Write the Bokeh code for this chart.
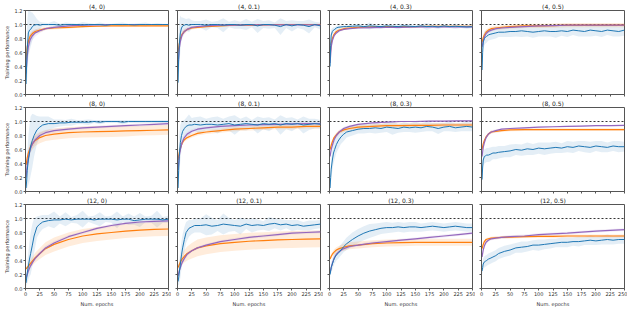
import numpy as np
from bokeh.plotting import figure
from bokeh.layouts import gridplot
from bokeh.models import Range1d, FixedTicker, PrintfTickFormatter, Span, CustomLabelingPolicy
from bokeh.embed import file_html
from bokeh.resources import INLINE

# epochs at which the (noisy) blue series is sampled
XB = [1, 2, 3, 5, 7, 9, 12, 15, 20, 25, 30, 40, 50, 60, 70, 80, 90, 100, 110, 120,
      130, 140, 150, 160, 170, 180, 190, 200, 210, 220, 230, 240, 250]
# epochs at which the smooth orange / purple series are sampled
XS = [1, 3, 5, 8, 12, 17, 25, 35, 50, 75, 100, 125, 150, 175, 200, 225, 250]

X_TICKS = [0, 25, 50, 75, 100, 125, 150, 175, 200, 225, 250]
Y_TICKS = [0.0, 0.2, 0.4, 0.6, 0.8, 1.0, 1.2]

DEPTHS = ["4", "8", "12"]
NOISES = ["0", "0.1", "0.3", "0.5"]

# ---------------- (4, 0) ----------------
blue_4_0 = [0.15, 0.45, 0.65, 0.88, 0.92, 0.93, 0.97, 0.99, 1.0, 0.99, 1.0,
            1.0, 1.0, 0.99, 1.0, 1.0, 1.0, 0.995, 1.0, 1.0, 1.0, 0.99, 1.0, 1.0, 1.0, 1.0, 0.995, 1.0, 1.0, 1.0, 1.0, 1.0, 1.0]
blue_sd_4_0 = [0.1, 0.3, 0.4, 0.35, 0.3, 0.25, 0.2, 0.15, 0.08, 0.05, 0.03,
               0.02, 0.05, 0.02, 0.03, 0.02, 0.01, 0.04, 0.02, 0.01, 0.03, 0.02, 0.01, 0.02, 0.03, 0.01, 0.02, 0.02, 0.03, 0.01, 0.02, 0.01, 0.01]
orange_4_0 = [0.5, 0.68, 0.76, 0.83, 0.87, 0.9, 0.92, 0.94, 0.95, 0.96, 0.97, 0.975, 0.98, 0.98, 0.98, 0.98, 0.98]
orange_sd_4_0 = [0.05, 0.05, 0.05, 0.04, 0.04, 0.03, 0.03, 0.02, 0.02, 0.02, 0.01, 0.01, 0.01, 0.01, 0.01, 0.01, 0.01]
purple_4_0 = [0.3, 0.55, 0.68, 0.78, 0.84, 0.88, 0.91, 0.94, 0.96, 0.98, 0.99, 0.995, 1.0, 1.0, 1.0, 1.0, 1.0]
purple_sd_4_0 = [0.1, 0.12, 0.1, 0.08, 0.06, 0.05, 0.03, 0.02, 0.01, 0.01, 0.01, 0.005, 0.005, 0.005, 0.005, 0.005, 0.005]

# ---------------- (4, 0.1) ----------------
blue_4_01 = [0.17, 0.5, 0.7, 0.88, 0.95, 0.98, 0.99, 1.0, 0.99, 1.0, 1.0,
             1.0, 0.99, 1.0, 1.0, 0.99, 1.0, 1.0, 0.99, 1.0, 1.0, 0.98, 1.0, 1.0, 0.99, 0.97, 1.0, 0.98, 1.0, 0.99, 0.97, 1.0, 0.98]
blue_sd_4_01 = [0.1, 0.3, 0.35, 0.25, 0.15, 0.12, 0.1, 0.08, 0.1, 0.06, 0.05,
                0.05, 0.08, 0.04, 0.05, 0.1, 0.04, 0.06, 0.05, 0.08, 0.04, 0.1, 0.05, 0.06, 0.04, 0.12, 0.05, 0.08, 0.05, 0.06, 0.1, 0.04, 0.05]
orange_4_01 = [0.6, 0.72, 0.8, 0.86, 0.9, 0.93, 0.95, 0.96, 0.97, 0.98, 0.99, 0.99, 0.995, 1.0, 1.0, 1.0, 1.0]
orange_sd_4_01 = [0.04, 0.04, 0.03, 0.03, 0.03, 0.02, 0.02, 0.02, 0.01, 0.01, 0.01, 0.01, 0.01, 0.01, 0.01, 0.01, 0.01]
purple_4_01 = [0.4, 0.65, 0.76, 0.85, 0.9, 0.93, 0.96, 0.97, 0.98, 0.99, 0.99, 0.995, 0.995, 0.995, 0.995, 0.995, 0.995]
purple_sd_4_01 = [0.08, 0.08, 0.06, 0.05, 0.04, 0.03, 0.02, 0.01, 0.01, 0.01, 0.005, 0.005, 0.005, 0.005, 0.005, 0.005, 0.005]

# ---------------- (4, 0.3) ----------------
blue_4_03 = [0.4, 0.7, 0.85, 0.9, 0.92, 0.93, 0.95, 0.96, 0.965, 0.97, 0.97,
             0.975, 0.98, 0.97, 0.98, 0.975, 0.97, 0.98, 0.975, 0.97, 0.98, 0.975, 0.97, 0.98, 0.97, 0.975, 0.965, 0.98, 0.97, 0.975, 0.97, 0.965, 0.97]
blue_sd_4_03 = [0.05, 0.1, 0.08, 0.05, 0.04, 0.03, 0.03, 0.03, 0.02, 0.02, 0.02,
                0.02, 0.03, 0.02, 0.05, 0.02, 0.03, 0.02, 0.02, 0.04, 0.02, 0.03, 0.02, 0.02, 0.05, 0.02, 0.03, 0.02, 0.02, 0.04, 0.02, 0.03, 0.02]
orange_4_03 = [0.55, 0.73, 0.8, 0.86, 0.9, 0.92, 0.94, 0.95, 0.96, 0.965, 0.97, 0.97, 0.97, 0.975, 0.975, 0.975, 0.975]
orange_sd_4_03 = [0.03, 0.03, 0.03, 0.02, 0.02, 0.02, 0.02, 0.01, 0.01, 0.01, 0.01, 0.01, 0.01, 0.01, 0.01, 0.01, 0.01]
purple_4_03 = [0.45, 0.68, 0.77, 0.84, 0.88, 0.91, 0.93, 0.94, 0.95, 0.955, 0.96, 0.96, 0.965, 0.965, 0.965, 0.965, 0.965]
purple_sd_4_03 = [0.06, 0.05, 0.04, 0.03, 0.02, 0.02, 0.01, 0.01, 0.01, 0.01, 0.01, 0.01, 0.01, 0.01, 0.01, 0.01, 0.01]

# ---------------- (4, 0.5) ----------------
blue_4_05 = [0.35, 0.6, 0.75, 0.8, 0.82, 0.83, 0.85, 0.86, 0.87, 0.88, 0.89,
             0.89, 0.9, 0.9, 0.91, 0.9, 0.89, 0.9, 0.91, 0.9, 0.9, 0.91, 0.9, 0.92, 0.91, 0.9, 0.92, 0.91, 0.9, 0.92, 0.91, 0.9, 0.92]
blue_sd_4_05 = [0.1, 0.12, 0.1, 0.1, 0.09, 0.09, 0.08, 0.08, 0.08, 0.08, 0.07,
                0.07, 0.08, 0.07, 0.09, 0.07, 0.08, 0.07, 0.08, 0.07, 0.09, 0.07, 0.08, 0.07, 0.08, 0.07, 0.09, 0.07, 0.08, 0.07, 0.08, 0.07, 0.08]
orange_4_05 = [0.75, 0.81, 0.85, 0.89, 0.92, 0.94, 0.95, 0.96, 0.97, 0.98, 0.98, 0.985, 0.99, 0.99, 0.99, 0.99, 0.99]
orange_sd_4_05 = [0.04, 0.04, 0.04, 0.04, 0.03, 0.03, 0.03, 0.03, 0.03, 0.03, 0.03, 0.03, 0.03, 0.03, 0.03, 0.03, 0.03]
purple_4_05 = [0.68, 0.76, 0.82, 0.87, 0.9, 0.92, 0.94, 0.95, 0.96, 0.97, 0.98, 0.985, 0.99, 0.99, 0.99, 0.99, 0.99]
purple_sd_4_05 = [0.04, 0.04, 0.03, 0.03, 0.02, 0.02, 0.02, 0.01, 0.01, 0.01, 0.01, 0.01, 0.01, 0.01, 0.01, 0.01, 0.01]

# ---------------- (8, 0) ----------------
blue_8_0 = [0.05, 0.15, 0.3, 0.45, 0.55, 0.65, 0.73, 0.8, 0.88, 0.92, 0.95,
            0.97, 0.97, 0.98, 0.98, 0.99, 0.99, 0.99, 0.99, 1.0, 0.99, 1.0, 1.0, 1.0, 0.99, 1.0, 1.0, 1.0, 1.0, 1.0, 1.0, 1.0, 1.0]
blue_sd_8_0 = [0.05, 0.15, 0.25, 0.35, 0.4, 0.42, 0.38, 0.3, 0.2, 0.15, 0.12,
               0.1, 0.06, 0.05, 0.04, 0.05, 0.03, 0.03, 0.04, 0.02, 0.03, 0.02, 0.02, 0.02, 0.03, 0.02, 0.02, 0.02, 0.02, 0.02, 0.02, 0.02, 0.02]
orange_8_0 = [0.38, 0.48, 0.55, 0.62, 0.68, 0.73, 0.77, 0.8, 0.82, 0.84, 0.85, 0.855, 0.86, 0.865, 0.87, 0.875, 0.88]
orange_sd_8_0 = [0.04, 0.05, 0.06, 0.07, 0.08, 0.08, 0.08, 0.08, 0.08, 0.08, 0.08, 0.08, 0.08, 0.08, 0.07, 0.07, 0.07]
purple_8_0 = [0.2, 0.38, 0.48, 0.6, 0.68, 0.74, 0.8, 0.84, 0.87, 0.89, 0.91, 0.92, 0.93, 0.94, 0.95, 0.96, 0.97]
purple_sd_8_0 = [0.05, 0.08, 0.08, 0.07, 0.06, 0.05, 0.04, 0.03, 0.03, 0.02, 0.02, 0.02, 0.02, 0.02, 0.02, 0.02, 0.02]

# ---------------- (8, 0.1) ----------------
blue_8_01 = [0.05, 0.3, 0.5, 0.7, 0.8, 0.86, 0.9, 0.93, 0.95, 0.95, 0.96,
             0.95, 0.96, 0.96, 0.95, 0.96, 0.97, 0.95, 0.96, 0.97, 0.96, 0.95, 0.97, 0.96, 0.97, 0.95, 0.97, 0.96, 0.97, 0.95, 0.96, 0.97, 0.96]
blue_sd_8_01 = [0.05, 0.2, 0.3, 0.25, 0.2, 0.15, 0.12, 0.12, 0.15, 0.1, 0.1,
                0.12, 0.08, 0.1, 0.12, 0.08, 0.1, 0.14, 0.08, 0.1, 0.06, 0.12, 0.08, 0.1, 0.06, 0.14, 0.08, 0.1, 0.06, 0.12, 0.08, 0.07, 0.06]
orange_8_01 = [0.45, 0.55, 0.62, 0.69, 0.74, 0.77, 0.8, 0.83, 0.85, 0.87, 0.89, 0.9, 0.91, 0.92, 0.92, 0.93, 0.93]
orange_sd_8_01 = [0.03, 0.03, 0.03, 0.03, 0.03, 0.03, 0.03, 0.03, 0.03, 0.03, 0.03, 0.03, 0.03, 0.03, 0.03, 0.03, 0.03]
purple_8_01 = [0.3, 0.5, 0.6, 0.7, 0.77, 0.82, 0.86, 0.89, 0.91, 0.93, 0.94, 0.95, 0.955, 0.96, 0.965, 0.97, 0.97]
purple_sd_8_01 = [0.05, 0.05, 0.05, 0.04, 0.04, 0.03, 0.03, 0.02, 0.02, 0.02, 0.02, 0.02, 0.02, 0.02, 0.02, 0.02, 0.02]

# ---------------- (8, 0.3) ----------------
blue_8_03 = [0.05, 0.2, 0.32, 0.45, 0.55, 0.6, 0.67, 0.72, 0.78, 0.82, 0.85,
             0.87, 0.89, 0.9, 0.9, 0.91, 0.9, 0.92, 0.91, 0.9, 0.92, 0.91, 0.92, 0.91, 0.93, 0.92, 0.9, 0.92, 0.93, 0.91, 0.92, 0.93, 0.92]
blue_sd_8_03 = [0.05, 0.1, 0.15, 0.15, 0.15, 0.14, 0.12, 0.12, 0.1, 0.1, 0.08,
                0.07, 0.06, 0.07, 0.06, 0.08, 0.06, 0.07, 0.1, 0.06, 0.07, 0.06, 0.08, 0.06, 0.07, 0.06, 0.08, 0.06, 0.07, 0.06, 0.06, 0.07, 0.06]
orange_8_03 = [0.6, 0.66, 0.71, 0.77, 0.81, 0.85, 0.88, 0.9, 0.92, 0.93, 0.94, 0.94, 0.945, 0.945, 0.95, 0.95, 0.95]
orange_sd_8_03 = [0.03, 0.03, 0.03, 0.03, 0.03, 0.03, 0.03, 0.03, 0.03, 0.03, 0.03, 0.03, 0.03, 0.03, 0.03, 0.03, 0.03]
purple_8_03 = [0.5, 0.6, 0.66, 0.74, 0.8, 0.85, 0.9, 0.93, 0.96, 0.98, 0.99, 1.0, 1.0, 1.005, 1.005, 1.01, 1.01]
purple_sd_8_03 = [0.05, 0.05, 0.04, 0.04, 0.03, 0.03, 0.02, 0.02, 0.01, 0.01, 0.01, 0.01, 0.01, 0.01, 0.01, 0.01, 0.01]

# ---------------- (8, 0.5) ----------------
blue_8_05 = [0.17, 0.35, 0.45, 0.5, 0.51, 0.52, 0.52, 0.53, 0.55, 0.55, 0.56,
             0.57, 0.58, 0.6, 0.59, 0.61, 0.6, 0.62, 0.61, 0.62, 0.63, 0.62, 0.64, 0.63, 0.65, 0.64, 0.63, 0.65, 0.64, 0.63, 0.65, 0.64, 0.64]
blue_sd_8_05 = [0.05, 0.1, 0.1, 0.1, 0.1, 0.1, 0.1, 0.1, 0.09, 0.09, 0.09,
                0.08, 0.09, 0.08, 0.08, 0.09, 0.08, 0.08, 0.09, 0.08, 0.08, 0.07, 0.08, 0.08, 0.07, 0.08, 0.08, 0.07, 0.08, 0.07, 0.07, 0.08, 0.07]
orange_8_05 = [0.6, 0.68, 0.73, 0.78, 0.82, 0.85, 0.86, 0.87, 0.88, 0.885, 0.885, 0.885, 0.885, 0.885, 0.885, 0.885, 0.885]
orange_sd_8_05 = [0.02, 0.02, 0.02, 0.02, 0.02, 0.02, 0.02, 0.02, 0.02, 0.02, 0.02, 0.02, 0.02, 0.02, 0.02, 0.02, 0.02]
purple_8_05 = [0.5, 0.63, 0.7, 0.77, 0.82, 0.85, 0.87, 0.89, 0.9, 0.91, 0.92, 0.925, 0.93, 0.935, 0.94, 0.94, 0.945]
purple_sd_8_05 = [0.05, 0.05, 0.04, 0.03, 0.02, 0.02, 0.02, 0.01, 0.01, 0.01, 0.01, 0.01, 0.01, 0.01, 0.01, 0.01, 0.01]

# ---------------- (12, 0) ----------------
blue_12_0 = [0.08, 0.15, 0.22, 0.32, 0.42, 0.5, 0.62, 0.75, 0.88, 0.92, 0.95,
             0.97, 0.98, 0.98, 0.99, 0.98, 0.99, 0.99, 0.99, 0.98, 0.99, 0.99, 0.99, 0.98, 0.99, 0.99, 0.97, 0.98, 0.99, 0.99, 0.99, 0.98, 0.99]
blue_sd_12_0 = [0.05, 0.1, 0.15, 0.2, 0.25, 0.3, 0.3, 0.25, 0.15, 0.12, 0.1,
                0.08, 0.12, 0.05, 0.1, 0.04, 0.06, 0.12, 0.04, 0.06, 0.1, 0.04, 0.05, 0.12, 0.04, 0.08, 0.06, 0.1, 0.04, 0.05, 0.12, 0.04, 0.05]
orange_12_0 = [0.28, 0.3, 0.32, 0.35, 0.39, 0.44, 0.5, 0.57, 0.63, 0.7, 0.75, 0.78, 0.8, 0.82, 0.835, 0.845, 0.85]
orange_sd_12_0 = [0.02, 0.03, 0.04, 0.05, 0.06, 0.07, 0.08, 0.09, 0.1, 0.1, 0.1, 0.1, 0.1, 0.1, 0.1, 0.1, 0.1]
purple_12_0 = [0.15, 0.2, 0.25, 0.31, 0.37, 0.43, 0.5, 0.58, 0.65, 0.74, 0.8, 0.86, 0.9, 0.93, 0.95, 0.96, 0.965]
purple_sd_12_0 = [0.03, 0.03, 0.03, 0.03, 0.03, 0.03, 0.03, 0.03, 0.03, 0.02, 0.02, 0.02, 0.02, 0.02, 0.02, 0.02, 0.02]

# ---------------- (12, 0.1) ----------------
blue_12_01 = [0.1, 0.15, 0.22, 0.35, 0.48, 0.58, 0.7, 0.8, 0.86, 0.88, 0.9,
              0.9, 0.91, 0.89, 0.9, 0.92, 0.91, 0.9, 0.89, 0.92, 0.9, 0.91, 0.9, 0.92, 0.93, 0.91, 0.92, 0.9, 0.91, 0.89, 0.9, 0.91, 0.92]
blue_sd_12_01 = [0.05, 0.1, 0.15, 0.2, 0.2, 0.2, 0.18, 0.15, 0.12, 0.1, 0.1,
                 0.1, 0.15, 0.12, 0.08, 0.15, 0.1, 0.08, 0.12, 0.07, 0.1, 0.08, 0.06, 0.1, 0.07, 0.08, 0.06, 0.08, 0.07, 0.06, 0.07, 0.06, 0.06]
orange_12_01 = [0.3, 0.34, 0.38, 0.42, 0.46, 0.5, 0.54, 0.58, 0.61, 0.64, 0.66, 0.675, 0.685, 0.695, 0.7, 0.705, 0.71]
orange_sd_12_01 = [0.03, 0.05, 0.06, 0.08, 0.09, 0.1, 0.11, 0.12, 0.12, 0.12, 0.12, 0.12, 0.12, 0.12, 0.12, 0.12, 0.12]
purple_12_01 = [0.18, 0.25, 0.3, 0.37, 0.43, 0.49, 0.54, 0.58, 0.62, 0.67, 0.7, 0.73, 0.75, 0.77, 0.79, 0.8, 0.81]
purple_sd_12_01 = [0.03, 0.03, 0.03, 0.03, 0.03, 0.03, 0.02, 0.02, 0.02, 0.02, 0.02, 0.02, 0.02, 0.02, 0.02, 0.02, 0.02]

# ---------------- (12, 0.3) ----------------
blue_12_03 = [0.2, 0.25, 0.3, 0.35, 0.4, 0.44, 0.48, 0.5, 0.55, 0.6, 0.64,
              0.7, 0.75, 0.79, 0.82, 0.84, 0.86, 0.87, 0.87, 0.88, 0.87, 0.88, 0.88, 0.87, 0.88, 0.89, 0.88, 0.87, 0.88, 0.89, 0.88, 0.87, 0.87]
blue_sd_12_03 = [0.05, 0.06, 0.07, 0.08, 0.08, 0.08, 0.08, 0.08, 0.08, 0.08, 0.09,
                 0.1, 0.1, 0.1, 0.1, 0.09, 0.08, 0.08, 0.07, 0.07, 0.07, 0.07, 0.07, 0.06, 0.06, 0.06, 0.06, 0.06, 0.06, 0.06, 0.06, 0.06, 0.06]
orange_12_03 = [0.42, 0.46, 0.49, 0.52, 0.55, 0.57, 0.59, 0.61, 0.62, 0.64, 0.65, 0.655, 0.66, 0.66, 0.66, 0.66, 0.66]
orange_sd_12_03 = [0.02, 0.03, 0.03, 0.04, 0.04, 0.04, 0.05, 0.05, 0.05, 0.05, 0.05, 0.05, 0.05, 0.05, 0.05, 0.05, 0.05]
purple_12_03 = [0.22, 0.3, 0.36, 0.43, 0.49, 0.53, 0.57, 0.6, 0.62, 0.65, 0.67, 0.69, 0.71, 0.73, 0.75, 0.77, 0.79]
purple_sd_12_03 = [0.03, 0.03, 0.03, 0.03, 0.02, 0.02, 0.02, 0.02, 0.02, 0.02, 0.02, 0.02, 0.02, 0.02, 0.02, 0.02, 0.02]

# ---------------- (12, 0.5) ----------------
blue_12_05 = [0.25, 0.3, 0.35, 0.38, 0.39, 0.4, 0.42, 0.43, 0.45, 0.47, 0.5,
              0.53, 0.55, 0.58, 0.59, 0.6, 0.62, 0.62, 0.63, 0.64, 0.65, 0.66, 0.66, 0.67, 0.67, 0.68, 0.69, 0.68, 0.69, 0.7, 0.69, 0.7, 0.7]
blue_sd_12_05 = [0.05, 0.07, 0.08, 0.08, 0.08, 0.08, 0.08, 0.08, 0.08, 0.08, 0.08,
                 0.08, 0.08, 0.07, 0.08, 0.07, 0.07, 0.08, 0.07, 0.07, 0.06, 0.07, 0.07, 0.06, 0.07, 0.06, 0.07, 0.06, 0.06, 0.07, 0.06, 0.06, 0.06]
orange_12_05 = [0.57, 0.63, 0.67, 0.7, 0.71, 0.72, 0.725, 0.73, 0.735, 0.74, 0.745, 0.745, 0.75, 0.75, 0.75, 0.75, 0.75]
orange_sd_12_05 = [0.02, 0.02, 0.02, 0.02, 0.02, 0.02, 0.02, 0.02, 0.02, 0.02, 0.02, 0.02, 0.02, 0.02, 0.02, 0.02, 0.02]
purple_12_05 = [0.45, 0.55, 0.61, 0.66, 0.69, 0.71, 0.72, 0.73, 0.74, 0.75, 0.77, 0.78, 0.79, 0.805, 0.82, 0.83, 0.84]
purple_sd_12_05 = [0.04, 0.04, 0.03, 0.03, 0.02, 0.02, 0.02, 0.02, 0.02, 0.02, 0.02, 0.02, 0.02, 0.02, 0.02, 0.02, 0.02]

PANELS = [
    [(blue_4_0, blue_sd_4_0, orange_4_0, orange_sd_4_0, purple_4_0, purple_sd_4_0),
     (blue_4_01, blue_sd_4_01, orange_4_01, orange_sd_4_01, purple_4_01, purple_sd_4_01),
     (blue_4_03, blue_sd_4_03, orange_4_03, orange_sd_4_03, purple_4_03, purple_sd_4_03),
     (blue_4_05, blue_sd_4_05, orange_4_05, orange_sd_4_05, purple_4_05, purple_sd_4_05)],
    [(blue_8_0, blue_sd_8_0, orange_8_0, orange_sd_8_0, purple_8_0, purple_sd_8_0),
     (blue_8_01, blue_sd_8_01, orange_8_01, orange_sd_8_01, purple_8_01, purple_sd_8_01),
     (blue_8_03, blue_sd_8_03, orange_8_03, orange_sd_8_03, purple_8_03, purple_sd_8_03),
     (blue_8_05, blue_sd_8_05, orange_8_05, orange_sd_8_05, purple_8_05, purple_sd_8_05)],
    [(blue_12_0, blue_sd_12_0, orange_12_0, orange_sd_12_0, purple_12_0, purple_sd_12_0),
     (blue_12_01, blue_sd_12_01, orange_12_01, orange_sd_12_01, purple_12_01, purple_sd_12_01),
     (blue_12_03, blue_sd_12_03, orange_12_03, orange_sd_12_03, purple_12_03, purple_sd_12_03),
     (blue_12_05, blue_sd_12_05, orange_12_05, orange_sd_12_05, purple_12_05, purple_sd_12_05)],
]

BLUE = "#1f77b4"
ORANGE = "#ff7f0e"
PURPLE = "#9467bd"
FRAME = "#555555"
FONT = "DejaVu Sans"

HIDE_LABELS = "for (let i = 0; i < indices.size; i++) { indices.unset(i) }\nreturn indices"


def make_panel(r, c, data):
    blue, bsd, orange, osd, purple, psd = [np.array(a, dtype=float) for a in data]
    title = "(%s, %s)" % (DEPTHS[r], NOISES[c])
    p = figure(frame_width=143, frame_height=84,
               x_range=Range1d(0, 250), y_range=Range1d(0, 1.2),
               output_backend="svg", toolbar_location=None,
               min_border_left=19 if c == 0 else 6, min_border_right=3,
               min_border_top=8, min_border_bottom=17 if r == 2 else 3,
               background_fill_color="white", border_fill_color="white")
    p.title.text = title
    p.title.align = "center"
    p.title.text_font = FONT
    p.title.text_font_size = "6px"
    p.title.text_font_style = "normal"
    p.title.text_color = "#222222"
    p.title.standoff = 1
    p.title.offset = 0

    p.xgrid.visible = False
    p.ygrid.visible = False
    p.outline_line_color = FRAME
    p.outline_line_width = 1
    p.outline_line_alpha = 1

    ax = p.xaxis[0]
    ax.ticker = FixedTicker(ticks=X_TICKS)
    ay = p.yaxis[0]
    ay.ticker = FixedTicker(ticks=Y_TICKS)
    ay.formatter = PrintfTickFormatter(format="%.1f")
    for a in (ax, ay):
        a.axis_line_color = FRAME
        a.major_tick_line_color = FRAME
        a.major_tick_out = 2
        a.major_tick_in = 0
        a.minor_tick_line_color = None
        a.major_label_text_font = FONT
        a.major_label_text_font_size = "5px"
        a.major_label_text_color = "#333333"
        a.major_label_standoff = 1
        a.axis_label_text_font = FONT
        a.axis_label_text_font_size = "5px"
        a.axis_label_text_font_style = "normal"
        a.axis_label_text_color = "#333333"
        a.axis_label_standoff = 2
    if c == 0:
        ay.axis_label = "Training performance"
    else:
        ay.major_label_policy = CustomLabelingPolicy(code=HIDE_LABELS)
        ay.major_label_text_font_size = "0px"
        ay.major_label_standoff = 0
    if r == 2:
        ax.axis_label = "Num. epochs"
    else:
        ax.major_label_policy = CustomLabelingPolicy(code=HIDE_LABELS)
        ax.major_label_text_font_size = "0px"
        ax.major_label_standoff = 0

    p.add_layout(Span(location=1.0, dimension="width", line_color="black",
                      line_dash="2 2", line_width=0.8, level="underlay"))

    p.varea(x=XB, y1=blue - bsd, y2=blue + bsd, fill_color=BLUE, fill_alpha=0.12)
    p.varea(x=XS, y1=orange - osd, y2=orange + osd, fill_color=ORANGE, fill_alpha=0.15)
    p.varea(x=XS, y1=purple - psd, y2=purple + psd, fill_color=PURPLE, fill_alpha=0.12)

    p.line(XS, orange, line_color=ORANGE, line_width=1.2)
    p.line(XS, purple, line_color=PURPLE, line_width=1.2)
    p.line(XB, blue, line_color=BLUE, line_width=1)
    return p


rows = []
for r in range(3):
    rows.append([make_panel(r, c, PANELS[r][c]) for c in range(4)])

grid = gridplot(rows, toolbar_location=None)

open("out.html", "w").write(file_html(grid, INLINE))
